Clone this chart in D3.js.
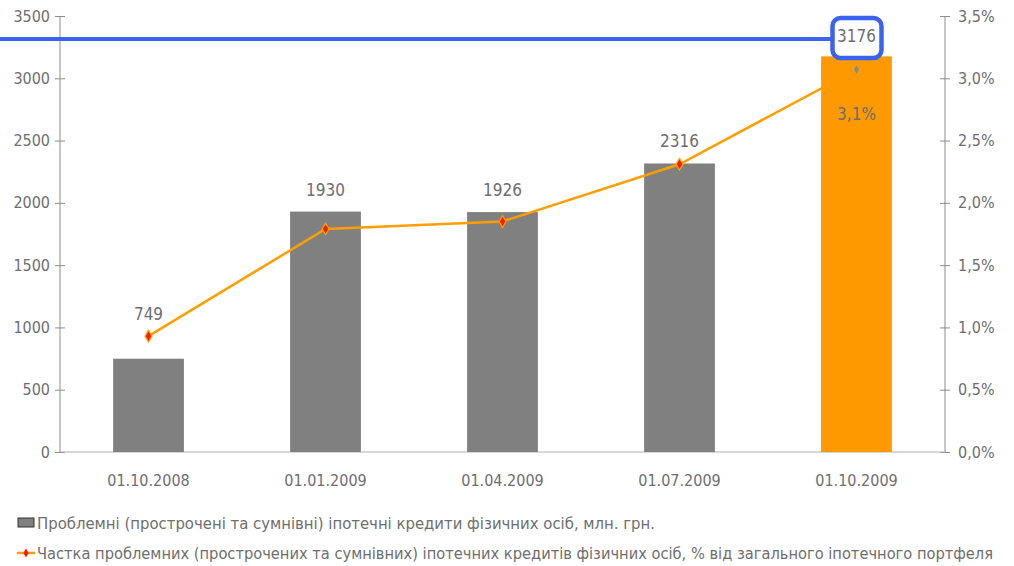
<!DOCTYPE html>
<html><head><meta charset="utf-8">
<script src="https://cdnjs.cloudflare.com/ajax/libs/d3/7.8.5/d3.min.js"></script>
<style>body{margin:0;background:#fff}text{font-family:"Liberation Sans Narrow","DejaVu Sans Condensed",sans-serif;fill:#6e6e6e}</style>
</head><body><svg id="c" width="1014" height="566"></svg>
<script>
const categories = ["01.10.2008","01.01.2009","01.04.2009","01.07.2009","01.10.2009"];
const loans = [749,1930,1926,2316,3176];
const share = [0.93,1.79,1.85,2.31,3.07];
const shareLabels = ["","","","","3,1%"];
const leftTicks = [0,500,1000,1500,2000,2500,3000,3500];
const rightTicks = [0,0.5,1,1.5,2,2.5,3,3.5];
const legendLabels = ["Проблемні (прострочені та сумнівні) іпотечні кредити фізичних осіб, млн. грн.",
 "Частка проблемних (прострочених та сумнівних) іпотечних кредитів фізичних осіб, %  від загального іпотечного портфеля"];

const svg = d3.select("#c");
const L=60,R=945,T=16,B=452;
const x = d3.scaleBand().domain(categories).range([L,R]).paddingInner(0.6).paddingOuter(0.3);
const y = d3.scaleLinear().domain([0,3500]).range([B,T]);
const y2 = d3.scaleLinear().domain([0,3.5]).range([B,T]);
const last = categories.length-1;
const cx = d => x(d)+x.bandwidth()/2;

// axes
const la = svg.append("g").attr("transform",`translate(${L},0)`)
 .call(d3.axisLeft(y).tickValues(leftTicks).tickSize(5).tickFormat(d3.format("d")));
la.selectAll(".tick line").attr("x2",5).attr("x1",-5);
const ra = svg.append("g").attr("transform",`translate(${R},0)`)
 .call(d3.axisRight(y2).tickValues(rightTicks).tickSize(5).tickFormat(d=>d3.format(".1f")(d).replace(".",",")+"%"));
ra.selectAll(".tick line").attr("x1",-5).attr("x2",5);
[la,ra].forEach(a=>{a.select(".domain").attr("stroke","#8c8c8c").attr("d",a===la?`M0,${T}V${B}`:`M0,${T}V${B}`);
 a.selectAll(".tick line").attr("stroke","#8c8c8c");
 a.selectAll(".tick text").attr("font-size",16).style("fill","#6e6e6e").attr("font-family","'Liberation Sans Narrow','DejaVu Sans Condensed',sans-serif");});
la.selectAll(".tick text").attr("x",-10);
ra.selectAll(".tick text").attr("x",13);

svg.append("line").attr("x1",L).attr("x2",R).attr("y1",B).attr("y2",B).attr("stroke","#b0b0b0");
svg.append("g").selectAll("text").data(categories).join("text")
 .attr("x",d=>cx(d)).attr("y",486).attr("text-anchor","middle").attr("font-size",16).text(d=>d);

// grey bars
svg.append("g").selectAll("rect").data(loans.slice(0,last)).join("rect")
 .attr("x",(d,i)=>x(categories[i])).attr("width",x.bandwidth())
 .attr("y",d=>y(d)).attr("height",d=>B-y(d)).attr("fill","#808080");

// line
const pts = share.map((v,i)=>[cx(categories[i]),y2(v)]);
svg.append("path").attr("d",d3.line()(pts)).attr("fill","none").attr("stroke","#ff9e00").attr("stroke-width",2.5);
svg.append("g").selectAll("path").data(pts.slice(0,last)).join("path")
 .attr("transform",d=>`translate(${d[0]},${d[1]})`)
 .attr("d",d3.symbol(d3.symbolDiamond,40)).attr("fill","#ff1a00").attr("stroke","#ffa000").attr("stroke-width",1.2);

// orange last bar
svg.append("rect").attr("x",x(categories[last])).attr("width",x.bandwidth())
 .attr("y",y(loans[last])).attr("height",B-y(loans[last])).attr("fill","#ff9900");
svg.append("path").attr("transform",`translate(${pts[last][0]},${pts[last][1]})`)
 .attr("d",d3.symbol(d3.symbolDiamond,22)).attr("fill","#8a8a8a");
svg.append("text").attr("x",pts[last][0]).attr("y",pts[last][1]+50).attr("text-anchor","middle").attr("font-size",17).text(shareLabels[last]);

// value labels
svg.append("g").selectAll("text").data(loans).join("text")
 .attr("x",(d,i)=>cx(categories[i]))
 .attr("y",(d,i)=> i===last ? y(d)-14 : Math.min(y(d),pts[i][1])-16)
 .attr("text-anchor","middle").attr("font-size",17).text(d=>d);

// highlight
const lx = cx(categories[last]);
svg.append("line").attr("x1",0).attr("x2",lx-24).attr("y1",39).attr("y2",39).attr("stroke","#3a63f0").attr("stroke-width",4);
svg.append("rect").attr("x",lx-24).attr("y",18).attr("width",49).attr("height",40).attr("rx",8)
 .attr("fill","none").attr("stroke","#3a63f0").attr("stroke-width",4.5);

// legend
const lg = svg.append("g");
lg.append("rect").attr("x",18).attr("y",518).attr("width",16).attr("height",9).attr("fill","#808080").attr("stroke","#333").attr("stroke-width",1);
lg.append("line").attr("x1",17).attr("x2",35).attr("y1",553).attr("y2",553).attr("stroke","#ff9e00").attr("stroke-width",2.5);
lg.append("path").attr("transform","translate(26,553)").attr("d",d3.symbol(d3.symbolDiamond,24)).attr("fill","#ff1a00");
lg.append("text").attr("x",37).attr("y",529).attr("font-size",16).attr("textLength",618).attr("lengthAdjust","spacingAndGlyphs").text(legendLabels[0]);
lg.append("text").attr("x",37).attr("y",559).attr("font-size",16).attr("textLength",956).attr("lengthAdjust","spacingAndGlyphs").text(legendLabels[1]);
</script></body></html>
